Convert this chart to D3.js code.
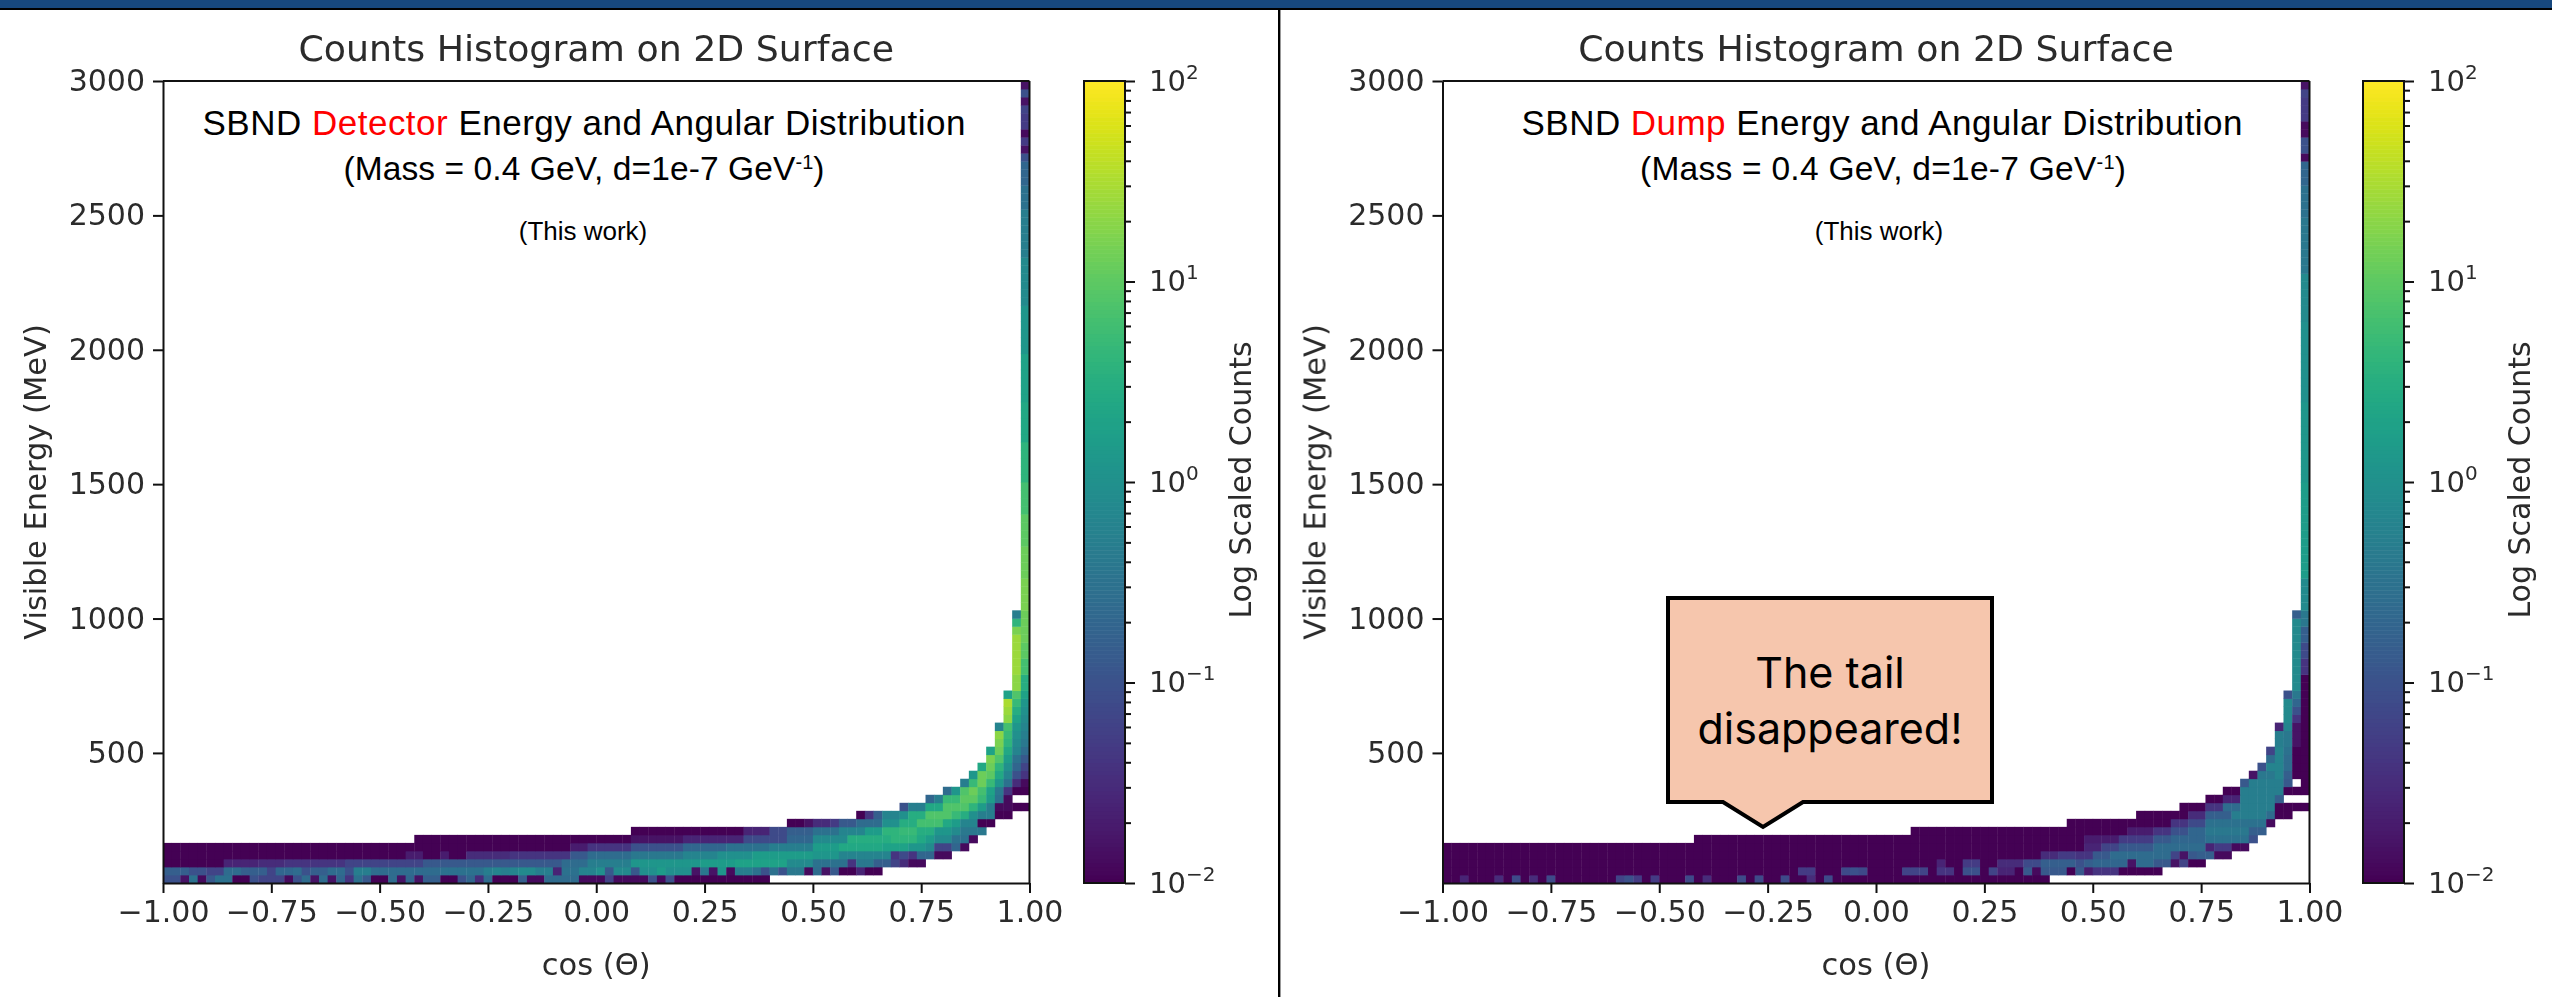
<!DOCTYPE html>
<html><head><meta charset="utf-8">
<script src="https://cdn.jsdelivr.net/npm/d3@7"></script>
<style>
html,body{margin:0;padding:0;background:#fff;overflow:hidden}
svg{display:block}
.mpl text{font-family:"DejaVu Sans";fill:#2b2b2b;filter:blur(.45px)}
.mpl .tick line,.mpl .domain{stroke:#111;stroke-width:2px}
.note text{font-family:"Liberation Sans";fill:#000}
</style></head><body>
<script>
// Levels are tenths of log10(counts); each row is [startCol, level, nextCol, level, ..., endCol]
const binCountX = 100, binCountY = 100;
const cosRange = [-1, 1], energyRange = [16, 3000], colorRange = [0.01, 100];
const xTicks = [-1, -0.75, -0.5, -0.25, 0, 0.25, 0.5, 0.75, 1];
const yTicks = [500, 1000, 1500, 2000, 2500, 3000];
const colorExponents = [-2, -1, 0, 1, 2];

const detectorRow00 = [0,-10,2,-18,3,-5,4,-19,5,-9,6,-5,8,-20,10,-10,11,-12,14,-19,15,-10,16,-6,17,-18,18,-6,19,-18,20,-7,21,-14,22,-5,23,-9,24,-20,26,-6,27,-18,28,-7,29,-18,30,-8,32,-20,34,-10,35,-7,36,-15,37,-6,38,-20,41,-8,42,-19,44,-6,48,-19,51,-12,52,-19,56,-10,57,-19,58,-10,59,-20,70];
const detectorRow01 = [0,-8,3,-10,5,-12,7,-6,9,-8,12,-12,13,-7,15,-6,16,-10,17,-8,19,-6,21,-10,22,-3,24,-6,32,-5,37,-3,38,-2,39,-3,40,-2,41,-1,43,-3,45,-16,46,-5,48,-2,50,0,51,-9,52,-1,54,-9,55,0,57,2,58,0,61,-18,62,-4,63,-18,64,1,65,-19,66,-3,68,-5,69,-10,70,-5,71,-10,72,-4,74,-19,75,-6,76,-18,77,-9,78,-20,80,-16,81,-20,83];
const detectorRow02 = [0,-20,7,-16,11,-15,14,-14,21,-12,30,-9,46,-6,49,-3,54,1,62,2,66,3,72,-1,75,-5,79,-14,80,-4,82,-8,84,-12,85,-15,86,-19,88];
const detectorRow03 = [0,-20,28,-17,30,-20,32,-17,33,-20,35,-15,40,-14,47,-9,49,-6,54,-4,60,-2,64,0,68,2,75,1,78,-2,84,-14,85,-11,86,-14,87,-7,89,-19,91];
const detectorRow04 = [0,-20,47,-17,49,-14,54,-10,60,-7,65,-5,70,-3,75,2,78,4,83,3,86,1,88,-1,89,-12,91,-7,92,-19,93];
const detectorRow05 = [29,-20,54,-18,60,-16,67,-11,72,-7,75,-1,79,5,84,6,87,4,88,2,89,-1,91,-5,93,-19,94];
const detectorRow06 = [54,-20,67,-16,70,-11,72,-8,75,-5,78,-2,81,2,83,6,85,7,87,5,89,1,91,-1,92,-4,95];
const detectorRow07 = [72,-20,74,-18,75,-15,77,-13,78,-9,80,-6,83,0,85,5,87,8,90,4,91,2,92,-2,94,-20,96];
const detectorRow08 = [80,-20,81,-14,82,-8,83,-2,85,0,86,5,88,9,91,7,92,5,93,0,94,-3,96,-20,98];
const detectorRow09 = [85,-10,86,-3,88,4,90,9,93,6,94,2,95,-3,96,-19,98,-20,100];
const detectorRow10 = [88,-7,89,-3,90,7,92,10,94,7,95,2,96,-5,97,-19,98];
const detectorRow11 = [90,-6,91,1,92,9,93,11,94,8,95,3,96,-4,97,-14,98,-20,100];
const detectorRow12 = [92,-3,93,7,94,11,95,7,96,1,97,-5,98,-15,99,-19,100];
const detectorRow13 = [93,1,94,11,95,10,96,4,97,-2,98,-10,99,-14,100];
const detectorRow14 = [94,4,95,11,96,6,97,0,98,-7,99,-12,100];
const detectorRow15 = [95,12,96,9,97,2,98,-5,99,-9,100];
const detectorRow16 = [95,3,96,11,97,4,98,-2,99,-6,100];
const detectorRow17 = [96,12,97,6,98,-1,99,-4,100];
const detectorRow18 = [96,13,97,7,98,0,99,-3,100];
const detectorRow19 = [96,-2,97,8,98,1,99,-2,100];
const detectorRow20 = [97,13,98,3,99,-1,100];
const detectorRow21 = [97,14,98,5,99,0,100];
const detectorRow22 = [97,15,98,7,99,1,100];
const detectorRow23 = [97,3,98,9,99,3,100];
// Tail columns: [startRow, level, nextRow, level, ..., endRow]
const detectorCol98 = [24,13,26,14,31,12,32,6,33,-3,34];
const detectorCol99 = [24,5,26,8,28,10,30,11,34,12,38,11,42,10,46,8,50,6,55,4,60,3,66,1,72,-1,78,-3,84,-5,87,-7,90,-10,91,-18,92,-13,93,-19,94,-13,96,-12,97,-18,98,-10,99,-18,100];

const dumpRow00 = [0,-20,2,-16,3,-20,6,-15,7,-20,8,-11,9,-20,10,-15,11,-20,12,-11,13,-20,20,-12,21,-10,22,-13,23,-20,24,-13,25,-20,28,-11,29,-20,30,-15,31,-20,34,-11,35,-20,36,-11,37,-20,39,-11,40,-20,42,-15,43,-20,44,-11,45,-20,70];
const dumpRow01 = [0,-20,41,-13,43,-20,46,-11,47,-10,48,-11,49,-20,53,-12,56,-20,57,-14,59,-20,60,-10,62,-20,63,-12,64,-16,66,-20,67,-9,68,-19,69,-9,72,-20,73,-9,74,-17,75,-14,78,-20,83];
const dumpRow02 = [0,-20,57,-16,58,-20,60,-13,62,-20,64,-15,67,-11,69,-8,73,-10,74,-8,75,-7,79,-18,80,-6,82,-9,84,-18,85,-12,86,-20,88];
const dumpRow03 = [0,-20,69,-15,71,-13,73,-14,75,-9,77,-6,84,-12,85,-18,86,-9,87,-8,89,-19,91];
const dumpRow04 = [0,-20,74,-16,76,-12,78,-9,82,-6,88,-16,89,-13,91,-19,93];
const dumpRow05 = [29,-20,74,-17,78,-13,82,-9,84,-7,88,-5,93,-10,94];
const dumpRow06 = [54,-20,79,-17,82,-14,84,-10,86,-7,88,-4,93,-8,95];
const dumpRow07 = [72,-20,84,-14,86,-11,88,-5,95,-19,96];
const dumpRow08 = [80,-20,86,-15,88,-8,91,-3,95,-6,96,-20,98];
const dumpRow09 = [85,-20,88,-14,90,-6,92,-3,96,-20,100];
const dumpRow10 = [88,-20,90,-16,92,-3,96,-8,97];
const dumpRow11 = [90,-20,92,-3,97,-20,100];
const dumpRow12 = [92,-9,93,-3,97,-9,98,null,99,-20,100];
const dumpRow13 = [93,-18,94,-4,96,-2,97,-8,98,-20,100];
const dumpRow14 = [94,-10,95,-2,97,-6,98,-20,100];
const dumpRow15 = [95,-6,96,-2,97,-6,98,-20,100];
const dumpRow16 = [95,-12,96,-2,97,-5,98,-20,100];
const dumpRow17 = [96,-3,97,-4,98,-18,99,-20,100];
const dumpRow18 = [96,-3,97,-4,98,-18,99,-20,100];
const dumpRow19 = [96,-16,97,-2,98,-18,99,-20,100];
const dumpRow20 = [97,-1,98,-14,99,-20,100];
const dumpRow21 = [97,-1,98,-10,99,-20,100];
const dumpRow22 = [97,-1,98,-7,99,-20,100];
const dumpRow23 = [97,-10,98,-4,99,-20,100];
const dumpCol98 = [24,-1,33,-8,34];
const dumpCol99 = [24,-20,26,-14,28,-11,30,-8,32,-4,34,-1,38,2,50,1,60,0,70,-1,76,-4,83,-5,87,-7,90,-19,91,-10,93,-19,95,-13,98,-12,99,-18,100];

const detectorRows = [detectorRow00,detectorRow01,detectorRow02,detectorRow03,detectorRow04,detectorRow05,detectorRow06,detectorRow07,detectorRow08,detectorRow09,detectorRow10,detectorRow11,detectorRow12,detectorRow13,detectorRow14,detectorRow15,detectorRow16,detectorRow17,detectorRow18,detectorRow19,detectorRow20,detectorRow21,detectorRow22,detectorRow23];
const dumpRows = [dumpRow00,dumpRow01,dumpRow02,dumpRow03,dumpRow04,dumpRow05,dumpRow06,dumpRow07,dumpRow08,dumpRow09,dumpRow10,dumpRow11,dumpRow12,dumpRow13,dumpRow14,dumpRow15,dumpRow16,dumpRow17,dumpRow18,dumpRow19,dumpRow20,dumpRow21,dumpRow22,dumpRow23];

const W = 2552, H = 997;
const svg = d3.select("body").append("svg").attr("width", W).attr("height", H);
svg.append("rect").attr("width", W).attr("height", 8).attr("fill", "#17487e");
svg.append("rect").attr("y", 8).attr("width", W).attr("height", 2).attr("fill", "#000");
svg.append("rect").attr("x", 1278).attr("y", 8).attr("width", 2.4).attr("height", H).attr("fill", "#000");

// expand runs into cells
function expandRuns(runs, fn) {
  for (let i = 0; i + 1 < runs.length; i += 2) {
    if (runs[i + 1] === null) continue;
    for (let k = runs[i]; k < runs[i + 2]; k++) fn(k, runs[i + 1]);
  }
}
function buildCells(rows, col98, col99) {
  const cells = [];
  rows.forEach((runs, r) => expandRuns(runs, (c, v) => cells.push({c, r, v})));
  expandRuns(col98, (r, v) => cells.push({c: 98, r, v}));
  expandRuns(col99, (r, v) => cells.push({c: 99, r, v}));
  return cells;
}

function drawPanel(o) {
  const x = d3.scaleLinear().domain(cosRange).range([o.left, o.right]);
  const y = d3.scaleLinear().domain(energyRange).range([883, 81]);
  const xBin = c => cosRange[0] + c * (cosRange[1] - cosRange[0]) / binCountX;
  const yBin = r => energyRange[0] + r * (energyRange[1] - energyRange[0]) / binCountY;
  const color = d3.scaleLog().domain(colorRange).range([0, 1]);
  const g = svg.append("g").attr("class", "mpl");

  const heat = g.append("g").style("filter", "blur(.5px)");
  heat.selectAll("rect").data(buildCells(o.rows, o.col98, o.col99)).join("rect")
    .attr("x", d => x(xBin(d.c)))
    .attr("y", d => y(yBin(d.r + 1)))
    .attr("width", d => x(xBin(d.c + 1)) - x(xBin(d.c)) + 0.4)
    .attr("height", d => y(yBin(d.r)) - y(yBin(d.r + 1)) + 0.4)
    .attr("fill", d => d3.interpolateViridis(color(Math.pow(10, d.v / 10))));

  const xAxis = d3.axisBottom(x).tickValues(xTicks).tickSize(10).tickSizeOuter(0).tickPadding(8)
    .tickFormat(d => d3.format(".2f")(d).replace("-", "\u2212"));
  const ax = g.append("g").attr("transform", "translate(0,883)").call(xAxis);
  const yAxis = d3.axisLeft(y).tickValues(yTicks).tickSize(10).tickSizeOuter(0).tickPadding(8);
  const ay = g.append("g").attr("transform", `translate(${o.left},0)`).call(yAxis.tickFormat(d3.format("d")));
  [ax, ay].forEach(a => a.selectAll("text").style("font-size", "30px").style("font-family", "DejaVu Sans"));
  g.append("line").attr("x1", o.left).attr("x2", o.right).attr("y1", 81).attr("y2", 81).attr("class","domain");
  g.append("line").attr("x1", o.right).attr("x2", o.right).attr("y1", 81).attr("y2", 883).attr("class","domain");
  g.selectAll("line.domain").style("stroke", "#111").style("stroke-width", "2px");

  g.append("text").attr("x", (o.left + o.right) / 2).attr("y", 61).attr("text-anchor", "middle")
    .style("font-size", "36.3px").text("Counts Histogram on 2D Surface");
  g.append("text").attr("x", (o.left + o.right) / 2).attr("y", 975).attr("text-anchor", "middle")
    .style("font-size", "30.5px").text("cos (\u0398)");
  g.append("text").attr("transform", `translate(${o.left - 117},482) rotate(-90)`).attr("text-anchor", "middle")
    .style("font-size", "30.5px").text("Visible Energy (MeV)");

  // colour bar
  const cb = d3.scaleLog().domain(colorRange).range([883, 81]);
  const steps = d3.range(0, 200);
  g.append("g").selectAll("rect").data(steps).join("rect")
    .attr("x", o.cbLeft).attr("width", o.cbWidth)
    .attr("y", d => 883 - (d + 1) * (802 / 200)).attr("height", 802 / 200 + 0.5)
    .attr("fill", d => d3.interpolateViridis((d + 0.5) / 200));
  g.append("rect").attr("x", o.cbLeft).attr("y", 81).attr("width", o.cbWidth).attr("height", 802)
    .attr("fill", "none").attr("stroke", "#111").attr("stroke-width", 2);
  const minor = d3.range(-2, 2).flatMap(e => d3.range(2, 10).map(m => m * Math.pow(10, e)));
  g.append("g").attr("transform", `translate(${o.cbLeft + o.cbWidth},0)`)
    .call(d3.axisRight(cb).tickValues(minor).tickSize(6).tickFormat("")).select(".domain").remove();
  const major = g.append("g").attr("transform", `translate(${o.cbLeft + o.cbWidth},0)`)
    .call(d3.axisRight(cb).tickValues(colorExponents.map(e => Math.pow(10, e))).tickSize(10).tickPadding(14).tickFormat(""));
  major.select(".domain").remove();
  major.selectAll(".tick text").each(function (d) {
    const e = Math.round(Math.log10(d));
    const t = d3.select(this).style("font-size", "29px").style("font-family", "DejaVu Sans");
    t.append("tspan").text("10");
    t.append("tspan").attr("dy", "-12").style("font-size", "20px").text(String(e).replace("-", "\u2212"));
  });
  g.append("text").attr("transform", `translate(${o.cbLeft + 167},480) rotate(-90)`).attr("text-anchor", "middle")
    .style("font-size", "30px").text("Log Scaled Counts");

  // annotation text
  const n = svg.append("g").attr("class", "note");
  const t1 = n.append("text").attr("x", o.noteX).attr("y", 135).attr("text-anchor", "middle")
    .attr("textLength", o.len1).attr("lengthAdjust", "spacing").style("font-size", "35px");
  t1.append("tspan").text("SBND ");
  t1.append("tspan").attr("fill", "#ff0000").style("fill", "#ff0000").text(o.site);
  t1.append("tspan").text(" Energy and Angular Distribution");
  const t2 = n.append("text").attr("x", o.noteX2).attr("y", 180).attr("text-anchor", "middle")
    .attr("textLength", o.len2).attr("lengthAdjust", "spacing").style("font-size", "33.5px");
  t2.append("tspan").text("(Mass = 0.4 GeV, d=1e-7 GeV");
  t2.append("tspan").attr("dy", -11).style("font-size", "20px").text("-1");
  t2.append("tspan").attr("dy", 11).text(")");
  n.append("text").attr("x", o.noteX3).attr("y", 240).attr("text-anchor", "middle").style("font-size", "26px").text("(This work)");
}

drawPanel({left: 163, right: 1029.5, cbLeft: 1084, cbWidth: 41, rows: detectorRows, col98: detectorCol98, col99: detectorCol99,
  site: "Detector", noteX: 584, noteX2: 584, noteX3: 583, len1: 763, len2: 481});
drawPanel({left: 1442.5, right: 2309.5, cbLeft: 2363, cbWidth: 41, rows: dumpRows, col98: dumpCol98, col99: dumpCol99,
  site: "Dump", noteX: 1882, noteX2: 1883, noteX3: 1879, len1: 721, len2: 486});

// callout
const callout = svg.append("g");
const boxL = 1668, boxR = 1992, boxT = 598, boxB = 802, tipL = 1723, tipR = 1803, tipX = 1763, tipY = 827;
callout.append("path")
  .attr("d", d3.line()([[boxL,boxT],[boxR,boxT],[boxR,boxB],[tipR,boxB],[tipX,tipY],[tipL,boxB],[boxL,boxB]]) + "Z")
  .attr("fill", "#f6c6ad").attr("stroke", "#000").attr("stroke-width", 4);
["The tail", "disappeared!"].forEach((s, i) => callout.append("text")
  .attr("x", (boxL + boxR) / 2).attr("y", 688 + i * 56).attr("text-anchor", "middle")
  .style("font-family", "Inter").style("font-size", "43px").attr("fill", "#000").text(s));
</script>
</body></html>
